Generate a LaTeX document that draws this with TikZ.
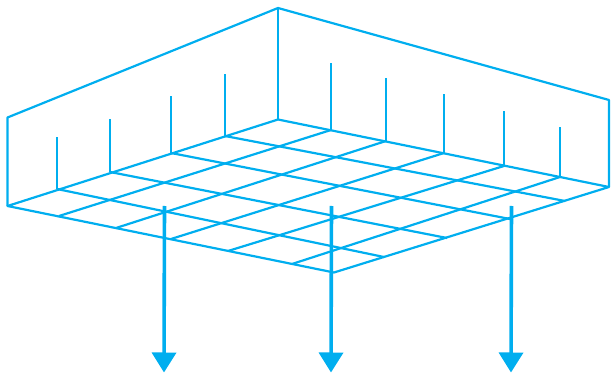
\documentclass[tikz,border=0pt]{standalone}
\usetikzlibrary{arrows.meta}
\definecolor{gridblue}{HTML}{00AEEF}
\tikzset{
  wire/.style={draw=gridblue,line width=2.2pt,line join=round},
  post/.style={draw=gridblue,line width=2pt},
  loadarrow/.style={draw=gridblue,line width=3.6pt,-{Triangle[length=20pt,width=24pt,fill=gridblue]},shorten >=0pt}
}
\begin{document}
\begin{tikzpicture}[x=1pt,y=-1pt]
\useasboundingbox (0,0) rectangle (611,374);
% corners
\coordinate (A) at (7.5,206);
\coordinate (B) at (278,119.5);
\coordinate (C) at (609,187);
\coordinate (D) at (334,272.5);
\coordinate (At) at (7.5,117.5);
\coordinate (Bt) at (278,8);
\coordinate (Ct) at (609,100);
% outline
\draw[wire] (A) -- (At) -- (Bt) -- (Ct) -- (C);
\draw[wire] (Bt) -- (B);
\draw[wire] (A) -- (B) -- (C) -- (D) -- cycle;
% grid lines, one direction
\foreach \a/\b/\c/\d in {57/189/384/257,110/172/447/238,171/153/510/219,225/136/565/201}
  \draw[wire] (\a,\b) -- (\c,\d);
% grid lines, other direction
\foreach \a/\b/\c/\d in {59/216/331/130,116/228/386/141,171/239/444/153,228/251/504/166,292/264/560/177}
  \draw[wire] (\a,\b) -- (\c,\d);
% posts
\foreach \a/\b/\c in {57/189/137,110/172/119,171/153/96,225/136/74,331/130/63,386/141/78,444/153/94,504/166/111,560/177/127}
  \draw[post] (\a,\b) -- (\a,\c);
% load arrows
\foreach \a/\e in {164.5/164,331.5/331,511.5/511}
  \draw[loadarrow] (\a,206) -- (\e,372.5);
\end{tikzpicture}
\end{document}
